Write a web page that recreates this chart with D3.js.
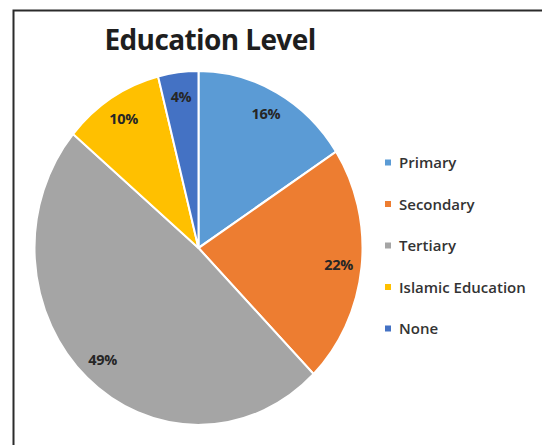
<!DOCTYPE html>
<html>
<head>
<meta charset="utf-8">
<script src="https://cdn.jsdelivr.net/npm/d3@7"></script>
<style>
  html, body { margin: 0; padding: 0; background: #fff; }
  svg { display: block; }
</style>
</head>
<body>
<svg id="chart" width="542" height="445"></svg>
<script>
// Education level breakdown (percent of respondents)
const categories = ["Primary", "Secondary", "Tertiary", "Islamic Education", "None"];
const values = [16, 22, 49, 10, 4];
const colors = ["#5B9BD5", "#ED7D31", "#A5A5A5", "#FFC000", "#4472C4"];
const title = "Education Level";

const svg = d3.select("#chart");
const W = 542, H = 445;

// Outer frame (runs off the right and bottom edges)
svg.append("rect")
  .attr("x", 13.5).attr("y", 10.5)
  .attr("width", W + 20).attr("height", H + 20)
  .attr("fill", "#fff")
  .attr("stroke", "#2b2b2b")
  .attr("stroke-width", 2);

// Title
svg.append("text")
  .attr("x", 210).attr("y", 50)
  .attr("text-anchor", "middle")
  .attr("font-family", "'Open Sans', Lato, sans-serif")
  .attr("font-weight", 700)
  .attr("font-size", 28)
  .attr("fill", "#1e1e1e")
  .attr("letter-spacing", -0.6)
  .text(title);

// Pie (slightly taller than wide)
const cx = 198.5, cy = 248, r = 164, yStretch = 1.079;
const data = categories.map((c, i) => ({ name: c, value: values[i], color: colors[i] }));

const pie = d3.pie().sort(null).value(d => d.value);
const arcs = pie(data);
const arc = d3.arc().innerRadius(0).outerRadius(r);
const labelArc = d3.arc().innerRadius(r * 0.86).outerRadius(r * 0.86);

const g = svg.append("g")
  .attr("transform", `translate(${cx},${cy}) scale(1,${yStretch})`);

g.selectAll("path.slice")
  .data(arcs)
  .enter().append("path")
  .attr("class", "slice")
  .attr("d", arc)
  .attr("fill", d => d.data.color)
  .attr("stroke", "#fff")
  .attr("stroke-width", 2)
  .attr("stroke-linejoin", "round");

// Percentage labels (kept unstretched)
const lg = svg.append("g").attr("transform", `translate(${cx},${cy})`);
lg.selectAll("text")
  .data(arcs)
  .enter().append("text")
  .attr("x", d => labelArc.centroid(d)[0])
  .attr("y", d => labelArc.centroid(d)[1] * yStretch)
  .attr("dy", "0.35em")
  .attr("text-anchor", "middle")
  .attr("font-family", "'Open Sans', Lato, sans-serif")
  .attr("font-weight", 700)
  .attr("font-size", 14.5)
  .attr("letter-spacing", -0.3)
  .attr("fill", "#262626")
  .text(d => d.data.value + "%");

// Legend
const legend = svg.append("g").attr("transform", "translate(385,163)");
const item = legend.selectAll("g")
  .data(data)
  .enter().append("g")
  .attr("transform", (d, i) => `translate(0,${i * 41.5})`);

item.append("rect")
  .attr("x", 0).attr("y", -3.5)
  .attr("width", 6).attr("height", 6)
  .attr("fill", d => d.color);

item.append("text")
  .attr("x", 14).attr("y", 0)
  .attr("dy", "0.35em")
  .attr("font-family", "'Open Sans', Lato, sans-serif")
  .attr("font-weight", 600)
  .attr("font-size", 15)
  .attr("fill", "#333")
  .text(d => d.name);
</script>
</body>
</html>
